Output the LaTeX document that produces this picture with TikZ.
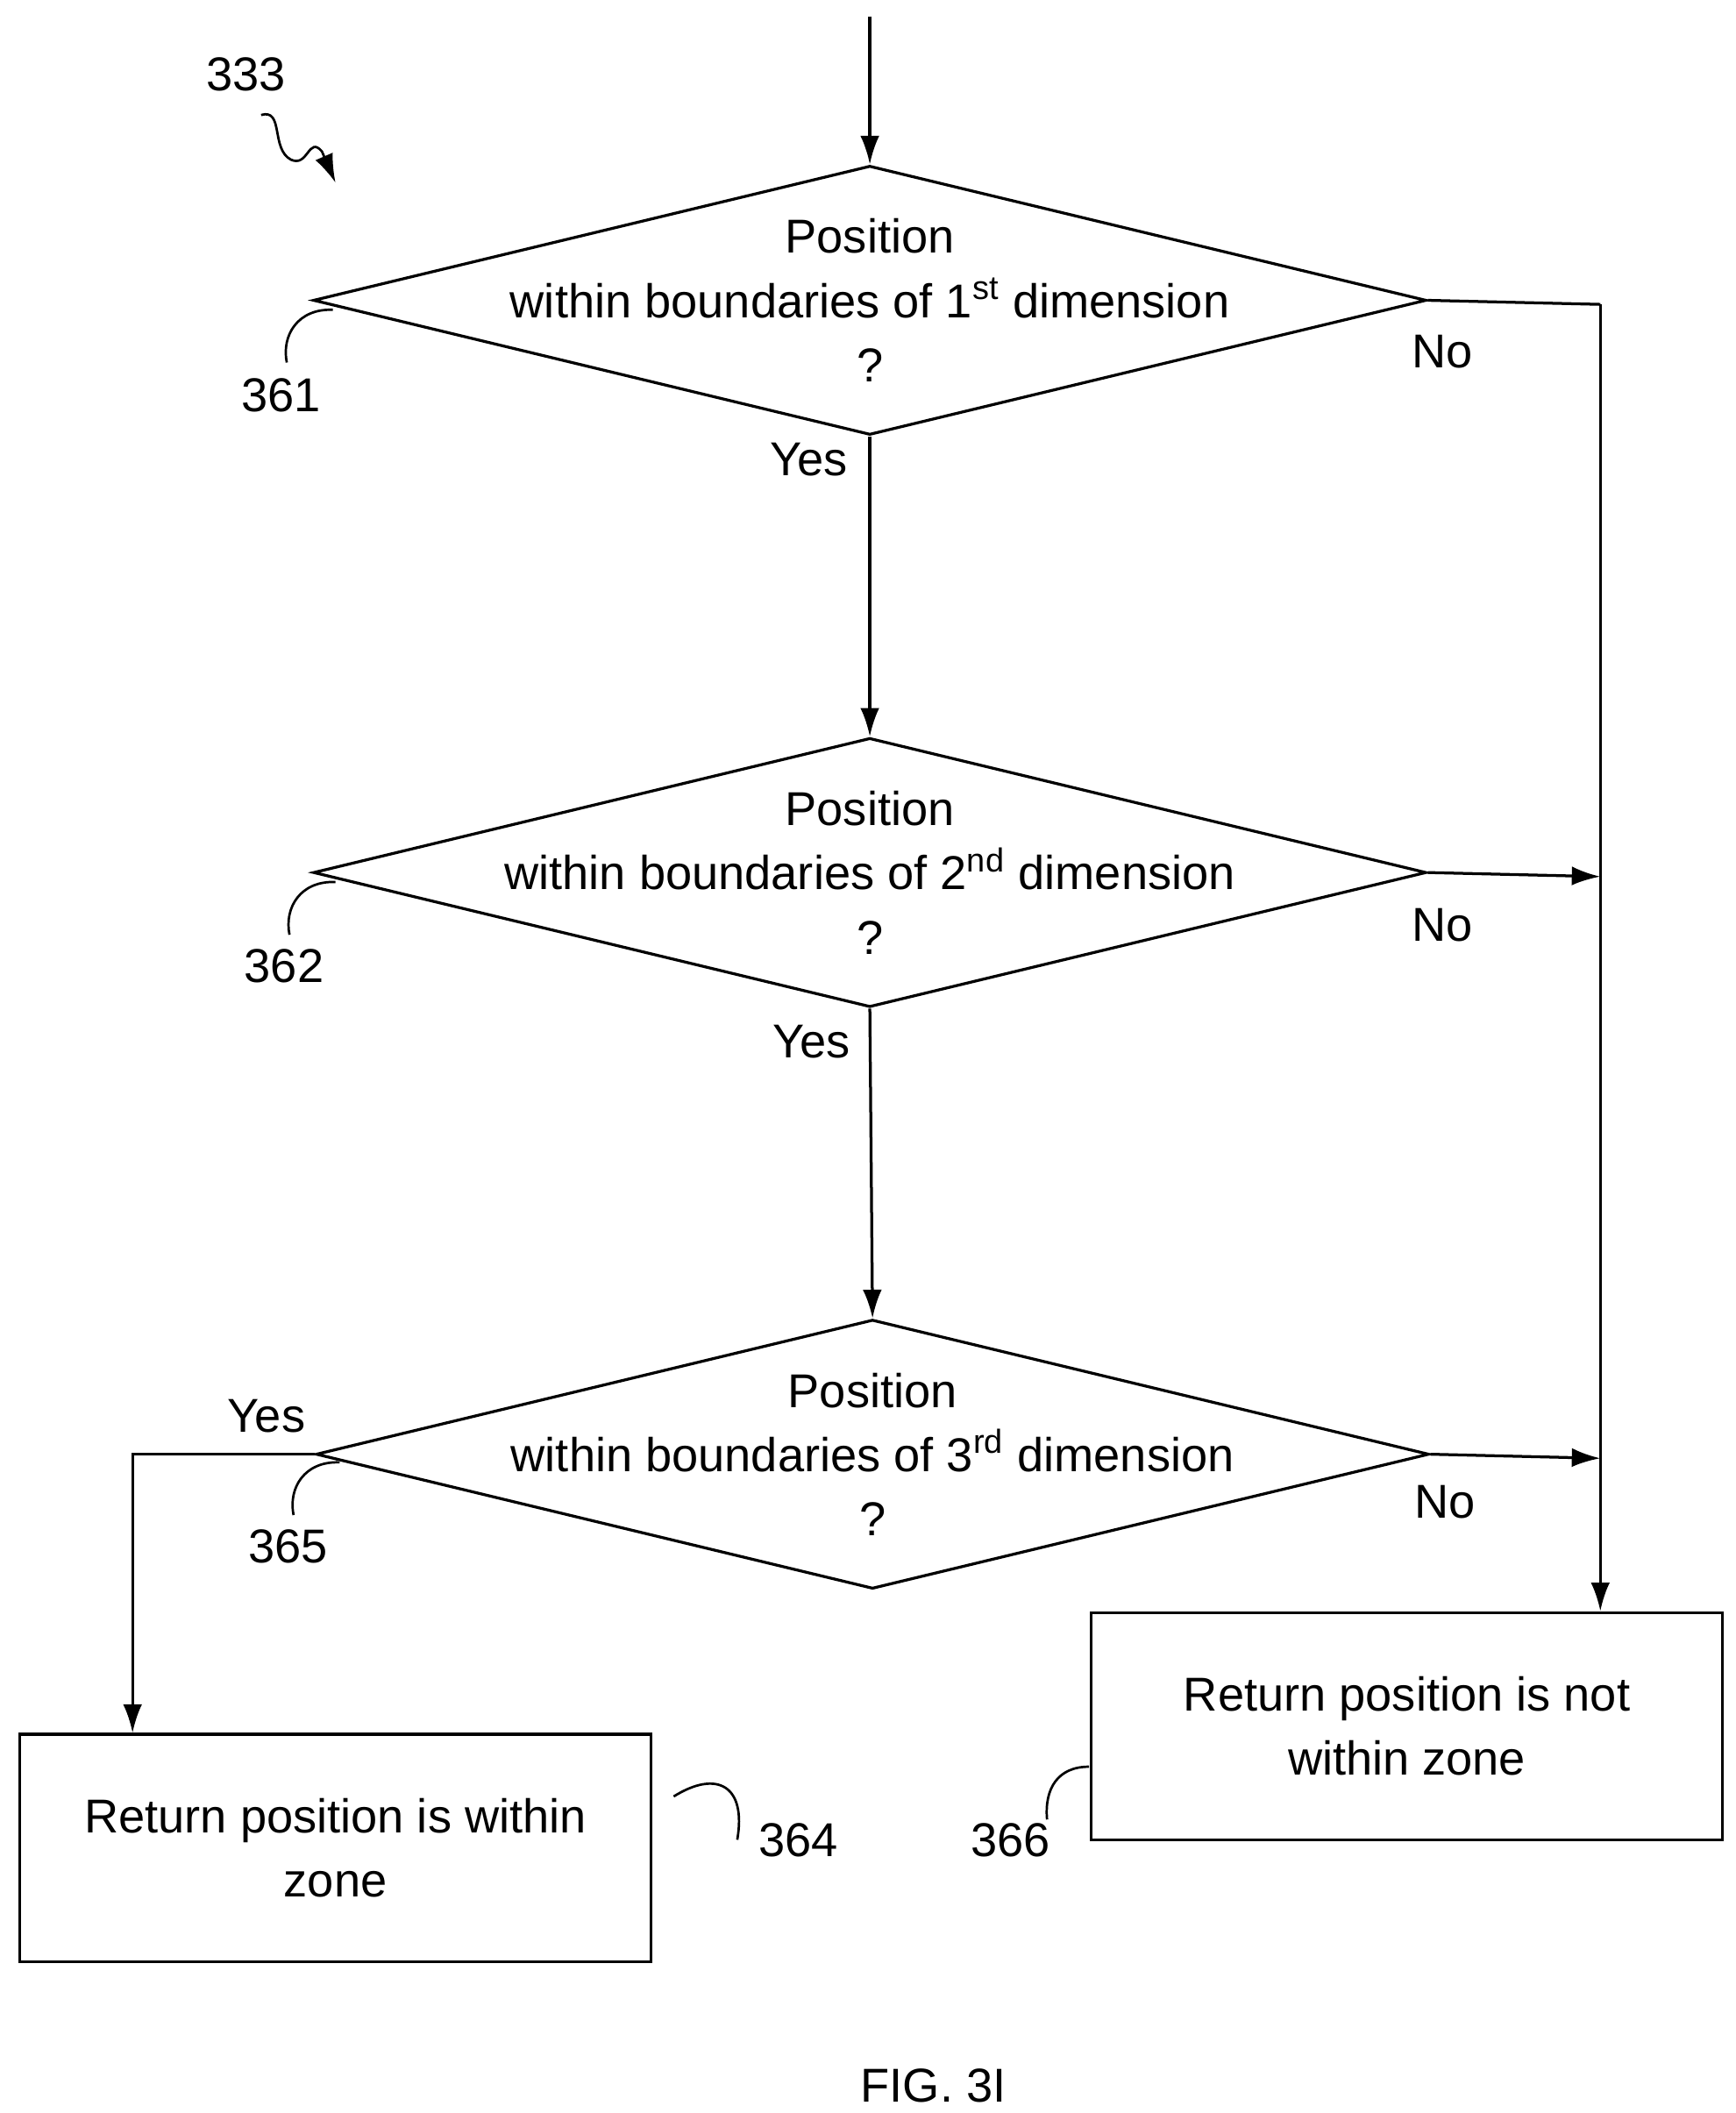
\documentclass[tikz,border=0pt]{standalone}
\usepackage{fontspec}
\setmainfont{Liberation Sans}
\usetikzlibrary{shapes.geometric,arrows.meta,positioning}
\begin{document}
\begin{tikzpicture}[x=0.02cm,y=-0.02cm,
    decision/.style={diamond, draw, line width=1.2pt, minimum width=16.46cm, minimum height=3.98cm, inner sep=0pt},
    process/.style={rectangle, draw, line width=1.2pt, minimum width=9.34cm, minimum height=3.36cm, align=center},
    txt/.style={font=\fontsize{20}{27}\selectfont, align=center},
    arrow/.style={-{Latex[length=12pt,width=8pt]}, line width=1.2pt},
    line/.style={line width=1.2pt},
    lead/.style={line width=1pt}
]
\useasboundingbox (0,0) rectangle (1283,1562);

% Decisions
\node[decision] (d1) at (643,222) {};
\node[txt] at (643,222) {Position\\within boundaries of 1\textsuperscript{st} dimension\\?};
\node[decision] (d2) at (643,645) {};
\node[txt] at (643,645) {Position\\within boundaries of 2\textsuperscript{nd} dimension\\?};
\node[decision] (d3) at (645,1075) {};
\node[txt] at (645,1075) {Position\\within boundaries of 3\textsuperscript{rd} dimension\\?};

% Results
\node[process, txt] (r364) at (248,1366) {Return position is within\\zone};
\node[process, txt] (r366) at (1040,1276) {Return position is not\\within zone};

% Flow
\coordinate (start) at (643,12);
\coordinate (c1) at (1183,225);
\coordinate (c2) at (1183,648);
\coordinate (c3) at (1183,1078);
\coordinate (c4) at (98,1075);
\draw[arrow] (start) -- (d1.north);
\draw[arrow] (d1.south) -- (d2.north);
\draw[arrow] (d2.south) -- (d3.north);
\draw[line] (d1.east) -- (c1);
\draw[arrow] (c1) -- (r366.north -| c1);
\draw[arrow] (d2.east) -- (c2);
\draw[arrow] (d3.east) -- (c3);
\draw[arrow] (d3.west) -- (c4) -- (r364.north -| c4);

% Branch labels
\node[txt] at (598,340) {Yes};
\node[txt] at (600,770) {Yes};
\node[txt] at (197,1047) {Yes};
\node[txt] at (1066,260) {No};
\node[txt] at (1066,684) {No};
\node[txt] at (1068,1110) {No};

% Reference numerals
\node[txt] (n333) at (182,55) {333};
\draw[-{Latex[length=12pt,width=8pt]}, lead] (193,85) .. controls (210,80) and (200,110) .. (215,118)
  .. controls (228,124) and (228,100) .. (238,112) -- (248,135);
\node[txt] (n361) at (208,292) {361};
\draw[lead] (246,229) .. controls (220,228) and (208,248) .. (212,268);
\node[txt] (n362) at (210,714) {362};
\draw[lead] (248,652) .. controls (222,651) and (210,671) .. (214,691);
\node[txt] (n365) at (213,1143) {365};
\draw[lead] (251,1081) .. controls (225,1080) and (213,1100) .. (217,1120);
\node[txt] (n364) at (590,1360) {364};
\draw[lead] (498,1328) .. controls (530,1308) and (552,1320) .. (545,1360);
\node[txt] (n366) at (747,1360) {366};
\draw[lead] (805,1306) .. controls (782,1306) and (772,1322) .. (774,1345);

\node[txt] (fig) at (690,1542) {FIG. 3I};
\end{tikzpicture}
\end{document}
